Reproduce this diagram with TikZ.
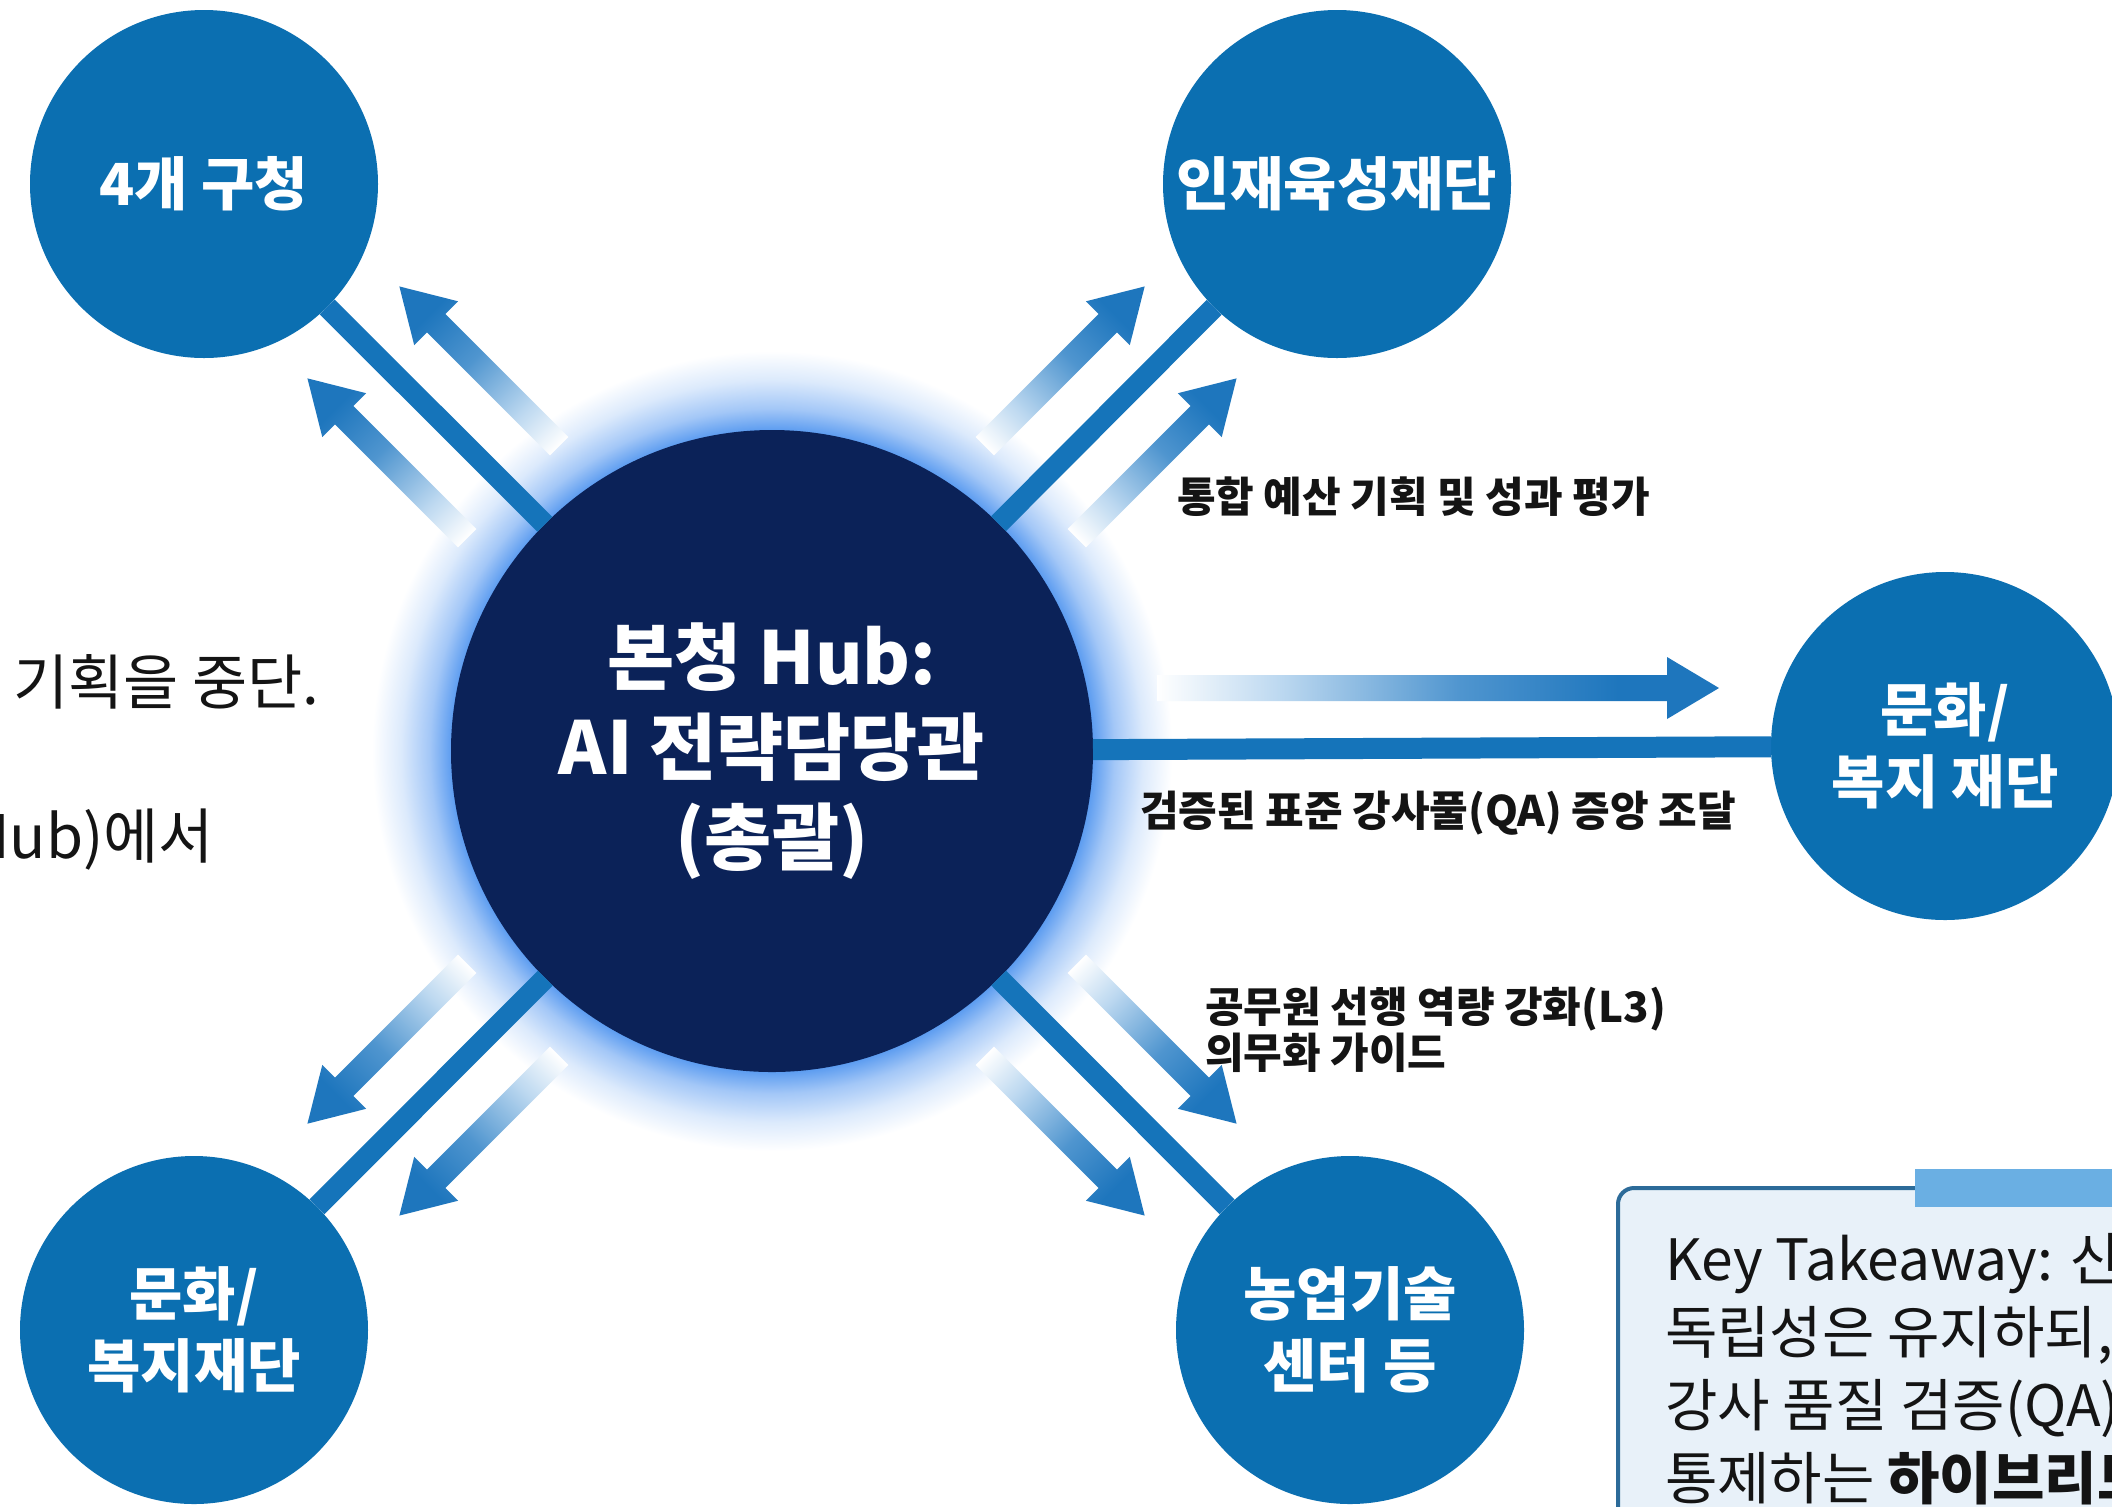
\documentclass[tikz,border=0pt]{standalone}
\usepackage{fontspec}
\setmainfont{Noto Sans CJK KR}
\definecolor{satblue}{HTML}{0B6FB1}
\definecolor{hubnavy}{HTML}{0B2258}
\definecolor{connblue}{HTML}{1574BA}
\definecolor{arrowblue}{HTML}{1E76BD}
\definecolor{arrowmid}{HTML}{4F95CF}
\definecolor{arrowpale}{HTML}{BCD8F0}
\definecolor{glowblue}{HTML}{5A9BF0}
\definecolor{glowlight}{HTML}{A3C7F7}
\definecolor{glowpale}{HTML}{DCEAFC}
\definecolor{boxborder}{HTML}{2C6B99}
\definecolor{boxfill}{HTML}{E8F1F9}
\definecolor{barblue}{HTML}{6AAFE3}
\definecolor{inktext}{HTML}{141414}
\pgfdeclarehorizontalshading{arrowfade}{100bp}{color(0bp)=(white); color(25bp)=(white); color(36bp)=(arrowpale); color(52bp)=(arrowmid); color(66bp)=(arrowblue); color(100bp)=(arrowblue)}
\pgfdeclareradialshading{hubglow}{\pgfpoint{0bp}{0bp}}{color(0bp)=(glowblue); color(20bp)=(glowblue); color(21.4bp)=(glowlight); color(23.2bp)=(glowpale); color(25bp)=(white); color(50bp)=(white)}
\tikzset{
  sat/.style={circle, fill=satblue, minimum size=174pt, inner sep=0pt, outer sep=0pt,
    text=white, align=center, font=\bfseries\fontsize{29}{36}\selectfont},
  hubnode/.style={circle, fill=hubnavy, minimum size=321pt, inner sep=0pt, outer sep=0pt,
    text=white, align=center, font=\bfseries\fontsize{36.5}{45}\selectfont},
  conn/.style={draw=connblue, line width=10.5pt},
  edgelabel/.style={inner sep=0pt, outer sep=0pt, anchor=west, align=left, text=inktext,
    font=\bfseries\fontsize{21}{23}\selectfont},
  sidetext/.style={inner sep=0pt, outer sep=0pt, text=inktext, font=\fontsize{30}{36}\selectfont},
  boxtext/.style={inner sep=0pt, outer sep=0pt, anchor=west, align=left, text=inktext,
    font=\fontsize{28.5}{36.5}\selectfont},
}
% #1 angle, #2 perpendicular offset, #3 tail distance, #4 tip distance (all from hub centre, px)
\newcommand\fadearrow[4]{%
  \begin{scope}[transform canvas={shift={(hub.center)},rotate=#1}]
    \shade[shading=arrowfade] ({#3},{#2-13}) -- ({#4-52},{#2-13}) -- ({#4-52},{#2-31})
      -- ({#4},{#2}) -- ({#4-52},{#2+31}) -- ({#4-52},{#2+13}) -- ({#3},{#2+13}) -- cycle;
  \end{scope}}
\begin{document}
\begin{tikzpicture}[x=0.5pt, y=-0.5pt]
\path[use as bounding box] (0,0) rectangle (2112,1506);
\clip (0,0) rectangle (2112,1506);
\fill[white] (0,0) rectangle (2112,1506);

% glow behind hub
\shade[shading=hubglow] (772,751) circle (400);

% nodes
\node[hubnode] (hub) at (772,751) {본청 Hub:\\AI 전략담당관\\(총괄)};
\node[sat] (tl) at (204,184) {4개 구청};
\node[sat] (tr) at (1337,184) {인재육성재단};
\node[sat] (rt) at (1945,746) {문화/\\복지 재단};
\node[sat] (bl) at (194,1330) {문화/\\복지재단};
\node[sat] (br) at (1350,1330) {농업기술\\센터 등};

% connectors
\draw[conn] (hub) -- (tl);
\draw[conn] (hub) -- (tr);
\draw[conn] (hub) -- (rt);
\draw[conn] (hub) -- (bl);
\draw[conn] (hub) -- (br);

% gradient arrows
\fadearrow{135}{65}{366}{592}
\fadearrow{135}{-65}{366}{592}
\fadearrow{45}{65}{366}{592}
\fadearrow{45}{-65}{366}{592}
\fadearrow{225}{65}{366}{592}
\fadearrow{225}{-65}{366}{592}
\fadearrow{315}{65}{366}{592}
\fadearrow{315}{-65}{366}{592}
\fadearrow{0}{-63}{385}{947}

% connector labels
\node[edgelabel] (lab1) at (1177,497) {통합 예산 기획 및 성과 평가};
\node[edgelabel] (lab2) at (1140,813) {검증된 표준 강사풀(QA) 증앙 조달};
\node[edgelabel] (lab3) at (1205,1030) {공무원 선행 역량 강화(L3)\\의무화 가이드};

% left side text fragments
\node[sidetext, anchor=west] (side1) at (13,682) {기획을 중단.};
\node[sidetext, anchor=east] (side2) at (214,840) {Hub)에서};

% key takeaway box
\draw[draw=boxborder, line width=2pt, fill=boxfill, rounded corners=8pt] (1618,1188) rectangle (2200,1600);
\fill[barblue] (1915,1169) rectangle (2200,1207);
\node[boxtext] (take) at (1665,1369) {Key Takeaway: 산\\독립성은 유지하되,\\강사 품질 검증(QA)\\통제하는 \textbf{하이브리드}};
\end{tikzpicture}
\end{document}
